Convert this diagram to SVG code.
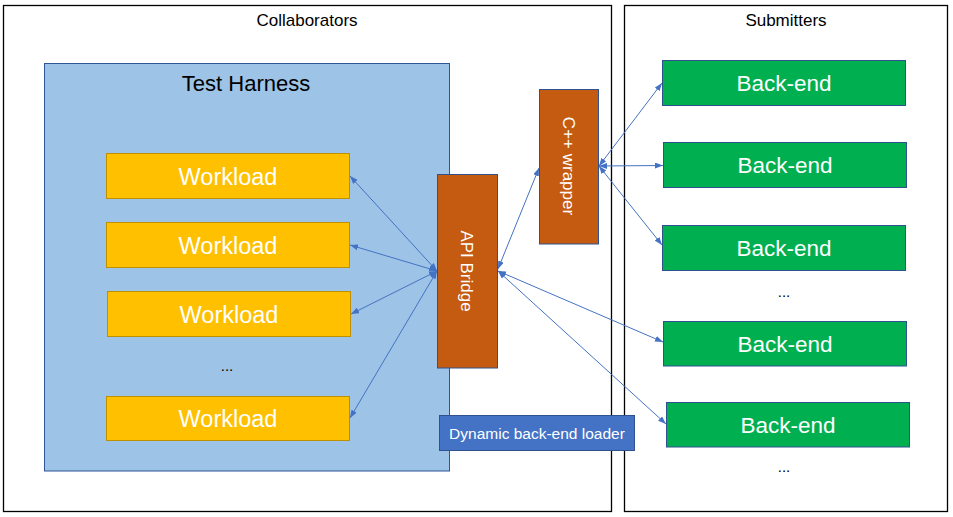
<svg xmlns="http://www.w3.org/2000/svg" width="953" height="517" viewBox="0 0 953 517">
<defs>
<style>
.frame{fill:#fff;stroke:#000;stroke-width:1.3}
.lbl{font-family:"Liberation Sans",Arial,sans-serif;font-size:17px;fill:#000;text-anchor:middle}
.th{fill:#9DC3E6;stroke:#2F5597;stroke-width:1}
.wl{fill:#FFC000;stroke:#BF9000;stroke-width:1}
.or{fill:#C55A11;stroke:#2F528F;stroke-width:1}
.be{fill:#00B050;stroke:#2F528F;stroke-width:1}
.ld{fill:#4472C4;stroke:#2F528F;stroke-width:1}
.wt{font-family:"Liberation Sans",Arial,sans-serif;fill:#fff;text-anchor:middle}
.big{font-size:23.5px}
.bk{font-size:22.5px}
.vt{font-size:17px;dominant-baseline:central}
.dots{font-family:"Liberation Sans",Arial,sans-serif;font-size:15px;fill:#000;text-anchor:middle}
.con line{stroke:#4472C4;stroke-width:1;fill:none;marker-start:url(#ah);marker-end:url(#ah)}
</style>
<marker id="ah" viewBox="0 0 8 6" refX="8" refY="3" markerWidth="8" markerHeight="6" markerUnits="userSpaceOnUse" orient="auto-start-reverse">
<path d="M0,0 L8,3 L0,6 Z" fill="#4472C4"/>
</marker>
</defs>
<g id="collaborators">
<rect class="frame" x="3.5" y="5.5" width="608" height="506"/>
<text class="lbl" x="307" y="26">Collaborators</text>
</g>
<g id="submitters">
<rect class="frame" x="624.5" y="5.5" width="323" height="506"/>
<text class="lbl" x="786" y="26">Submitters</text>
</g>
<g id="test-harness">
<rect class="th" x="44.5" y="63.5" width="405" height="407.5"/>
<text x="246" y="91" font-family="Liberation Sans,Arial,sans-serif" font-size="22" fill="#000" text-anchor="middle">Test Harness</text>
</g>
<g id="workload1">
<rect class="wl" x="106.5" y="153.5" width="243" height="45"/>
<text class="wt big" x="228" y="184.5">Workload</text>
</g>
<g id="workload2">
<rect class="wl" x="106.5" y="222.5" width="243" height="45"/>
<text class="wt big" x="228" y="253.5">Workload</text>
</g>
<g id="workload3">
<rect class="wl" x="107.5" y="291.5" width="243" height="45"/>
<text class="wt big" x="229" y="322.5">Workload</text>
</g>
<g id="workload-more">
<text class="dots" x="227" y="371">...</text>
</g>
<g id="workload4">
<rect class="wl" x="106.5" y="396.5" width="243" height="44"/>
<text class="wt big" x="228" y="427">Workload</text>
</g>
<g id="api-bridge">
<rect class="or" x="437.5" y="174.5" width="60" height="193.5"/>
<text class="wt vt" transform="translate(466 271) rotate(90)" x="0" y="0">API Bridge</text>
</g>
<g id="cpp-wrapper">
<rect class="or" x="539.5" y="89.5" width="59" height="154.5"/>
<text class="wt vt" transform="translate(568 166) rotate(90)" x="0" y="0">C++ wrapper</text>
</g>
<g id="backend1">
<rect class="be" x="662.5" y="60.5" width="243" height="45"/>
<text class="wt bk" x="784" y="91">Back-end</text>
</g>
<g id="backend2">
<rect class="be" x="663.5" y="142.5" width="243" height="45"/>
<text class="wt bk" x="785" y="173">Back-end</text>
</g>
<g id="backend3">
<rect class="be" x="662.5" y="225.5" width="243" height="45"/>
<text class="wt bk" x="784" y="256">Back-end</text>
</g>
<g id="backend-more1">
<text class="dots" x="784" y="297">...</text>
</g>
<g id="backend4">
<rect class="be" x="663.5" y="321.5" width="243" height="44.5"/>
<text class="wt bk" x="785" y="352">Back-end</text>
</g>
<g id="backend5">
<rect class="be" x="666.5" y="402.5" width="243" height="44.5"/>
<text class="wt bk" x="788" y="433">Back-end</text>
</g>
<g id="backend-more2">
<text class="dots" x="784" y="472">...</text>
</g>
<g id="loader">
<rect class="ld" x="439.5" y="415.5" width="195" height="35"/>
<text class="wt" x="537" y="438.5" font-size="15.5">Dynamic back-end loader</text>
</g>
<g id="connectors" class="con">
<line x1="437" y1="271" x2="350" y2="176"/>
<line x1="437" y1="271" x2="350" y2="245"/>
<line x1="437" y1="271" x2="351" y2="314"/>
<line x1="437" y1="271" x2="350" y2="418"/>
<line x1="498" y1="269" x2="539" y2="168"/>
<line x1="599" y1="166" x2="662" y2="83"/>
<line x1="599" y1="166" x2="663" y2="165.5"/>
<line x1="599" y1="166" x2="662" y2="245"/>
<line x1="498" y1="271" x2="663" y2="342"/>
<line x1="498" y1="271" x2="666" y2="424"/>
</g>
</svg>
